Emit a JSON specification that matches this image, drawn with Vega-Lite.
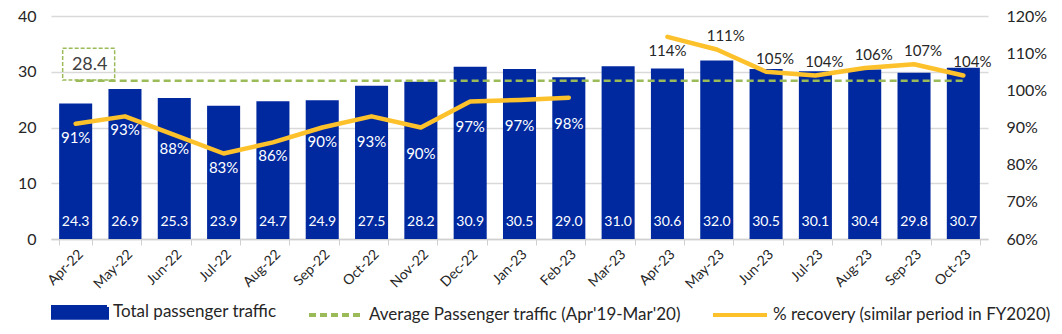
{
  "$schema": "https://vega.github.io/schema/vega-lite/v6.json",
  "width": 937,
  "height": 223,
  "autosize": "none",
  "padding": {"left": 51, "top": 16, "right": 74, "bottom": 95},
  "background": "white",
  "config": {
    "font": "Lato",
    "view": {"stroke": null},
    "axis": {"labelColor": "#262626", "labelFont": "Lato", "title": null}
  },
  "data": {
    "values": [
      {"month": "Apr-22", "traffic": 24.3, "recovery": 0.91},
      {"month": "May-22", "traffic": 26.9, "recovery": 0.93},
      {"month": "Jun-22", "traffic": 25.3, "recovery": 0.88},
      {"month": "Jul-22", "traffic": 23.9, "recovery": 0.83},
      {"month": "Aug-22", "traffic": 24.7, "recovery": 0.86},
      {"month": "Sep-22", "traffic": 24.9, "recovery": 0.90},
      {"month": "Oct-22", "traffic": 27.5, "recovery": 0.93},
      {"month": "Nov-22", "traffic": 28.2, "recovery": 0.90},
      {"month": "Dec-22", "traffic": 30.9, "recovery": 0.97},
      {"month": "Jan-23", "traffic": 30.5, "recovery": 0.974},
      {"month": "Feb-23", "traffic": 29.0, "recovery": 0.98},
      {"month": "Mar-23", "traffic": 31.0, "recovery": null},
      {"month": "Apr-23", "traffic": 30.6, "recovery": 1.144},
      {"month": "May-23", "traffic": 32.0, "recovery": 1.11},
      {"month": "Jun-23", "traffic": 30.5, "recovery": 1.05},
      {"month": "Jul-23", "traffic": 30.1, "recovery": 1.04},
      {"month": "Aug-23", "traffic": 30.4, "recovery": 1.06},
      {"month": "Sep-23", "traffic": 29.8, "recovery": 1.07},
      {"month": "Oct-23", "traffic": 30.7, "recovery": 1.04}
    ]
  },
  "encoding": {
    "x": {
      "field": "month",
      "type": "ordinal",
      "sort": null,
      "scale": {"paddingInner": 0.33, "paddingOuter": 0.165},
      "axis": {
        "labelAngle": -45,
        "labelFontSize": 14,
        "tickBand": "extent",
        "tickSize": 6,
        "tickColor": "#d0d0d0",
        "domainColor": "#d0d0d0",
        "domainWidth": 1.5,
        "labelPadding": 2,
        "grid": false
      }
    }
  },
  "layer": [
    {
      "encoding": {
        "y": {
          "type": "quantitative",
          "scale": {"domain": [0, 40], "nice": false},
          "axis": {
            "values": [0, 10, 20, 30, 40],
            "grid": true,
            "gridColor": "#d9d9d9",
            "gridWidth": 1.5,
            "domain": false,
            "ticks": false,
            "labelFontSize": 16,
            "labelPadding": 15
          }
        }
      },
      "layer": [
        {
          "mark": {"type": "bar"},
          "encoding": {
            "y": {"field": "traffic", "type": "quantitative"},
            "color": {
              "datum": "Total passenger traffic",
              "scale": {
                "domain": ["Total passenger traffic", "Average Passenger traffic (Apr'19-Mar'20)", "% recovery (similar period in FY2020)"],
                "range": ["#00299f", "#9bbb59", "#fdc12b"]
              },
              "legend": {
                "orient": "bottom",
                "direction": "horizontal",
                "title": null,
                "offset": -9,
                "labelFontSize": 17,
                "labelColor": "#262626",
                "labelLimit": 400,
                "labelOffset": 4,
                "columnPadding": 24,
                "symbolSize": 2916,
                "symbolStrokeWidth": 4,
                "symbolType": "M-1,-0.2H1V0.2H-1Z",
                "encode": {
                  "symbols": {
                    "update": {
                      "shape": {"signal": "datum.value == 'Total passenger traffic' ? 'M-1,-0.2H1V0.2H-1Z' : 'M-1,0H1'"},
                      "fill": {"signal": "datum.value == 'Total passenger traffic' ? '#00299f' : 'transparent'"},
                      "stroke": {"signal": "datum.value == 'Total passenger traffic' ? 'transparent' : (datum.value == '% recovery (similar period in FY2020)' ? '#fdc12b' : '#9bbb59')"},
                      "strokeDash": {"signal": "datum.value == '% recovery (similar period in FY2020)' || datum.value == 'Total passenger traffic' ? [1, 0] : [7, 4]"}
                    }
                  }
                }
              }
            }
          }
        },
        {
          "mark": {"type": "text", "color": "white", "fontSize": 14, "baseline": "bottom", "dy": -10},
          "encoding": {
            "y": {"datum": 0},
            "text": {"field": "traffic", "type": "quantitative", "format": ".1f"}
          }
        },
        {
          "mark": {"type": "line", "strokeWidth": 2.5, "strokeDash": [7, 4]},
          "encoding": {
            "y": {"datum": 28.4},
            "color": {"datum": "Average Passenger traffic (Apr'19-Mar'20)"}
          }
        },
        {
          "transform": [{"filter": "datum.month === 'Apr-22'"}],
          "mark": {"type": "bar", "width": 52, "xOffset": 13, "fill": "transparent", "stroke": "#9bbb59", "strokeWidth": 1.5, "strokeDash": [4, 2]},
          "encoding": {
            "y": {"datum": 28.5},
            "y2": {"datum": 34.2}
          }
        },
        {
          "transform": [{"filter": "datum.month === 'Apr-22'"}],
          "mark": {"type": "text", "fontSize": 18, "color": "#404040", "dx": 14},
          "encoding": {
            "y": {"datum": 31.3},
            "text": {"value": "28.4"}
          }
        }
      ]
    },
    {
      "encoding": {
        "y": {
          "type": "quantitative",
          "scale": {"domain": [0.6, 1.2], "nice": false},
          "axis": {
            "orient": "right",
            "values": [0.6, 0.7, 0.8, 0.9, 1.0, 1.1, 1.2],
            "format": ".0%",
            "grid": false,
            "domain": false,
            "ticks": false,
            "labelFontSize": 16,
            "labelPadding": 18
          }
        }
      },
      "layer": [
        {
          "mark": {"type": "line", "strokeWidth": 4.5, "strokeCap": "round", "strokeJoin": "round"},
          "encoding": {
            "y": {"field": "recovery", "type": "quantitative"},
            "color": {"datum": "% recovery (similar period in FY2020)"}
          }
        },
        {
          "transform": [{"filter": {"field": "month", "oneOf": ["Apr-22", "May-22", "Jun-22", "Jul-22", "Aug-22", "Sep-22", "Apr-23"]}}],
          "mark": {"type": "text", "fontSize": 15, "dy": 14},
          "encoding": {
            "y": {"field": "recovery", "type": "quantitative"},
            "text": {"field": "recovery", "type": "quantitative", "format": ".0%"},
            "color": {"condition": {"test": "datum.month === 'Apr-23'", "value": "#262626"}, "value": "white"}
          }
        },
        {
          "transform": [{"filter": {"field": "month", "oneOf": ["Oct-22", "Nov-22", "Dec-22", "Jan-23", "Feb-23"]}}],
          "mark": {"type": "text", "fontSize": 15, "dy": 26, "color": "white"},
          "encoding": {
            "y": {"field": "recovery", "type": "quantitative"},
            "text": {"field": "recovery", "type": "quantitative", "format": ".0%"}
          }
        },
        {
          "transform": [{"filter": {"field": "month", "oneOf": ["May-23", "Jun-23", "Jul-23", "Aug-23", "Sep-23", "Oct-23"]}}],
          "mark": {"type": "text", "fontSize": 15, "dy": -13, "dx": 9, "color": "#262626"},
          "encoding": {
            "y": {"field": "recovery", "type": "quantitative"},
            "text": {"field": "recovery", "type": "quantitative", "format": ".0%"}
          }
        }
      ]
    }
  ],
  "resolve": {"scale": {"y": "independent", "color": "shared"}}
}
